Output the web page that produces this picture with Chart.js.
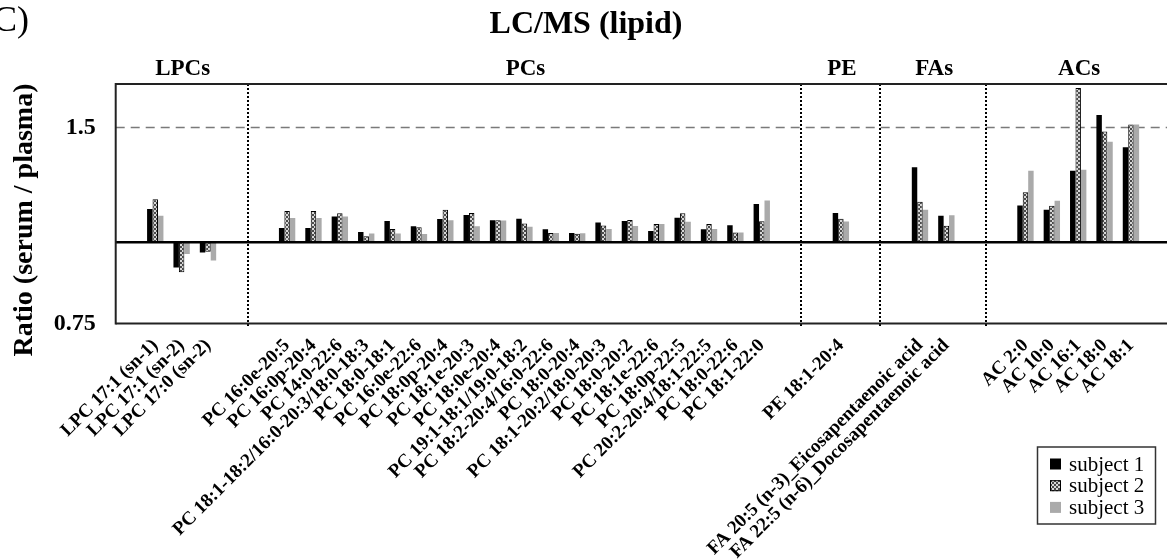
<!DOCTYPE html>
<html><head><meta charset="utf-8">
<script src="https://cdn.jsdelivr.net/npm/chart.js@4/dist/chart.umd.min.js"></script>
<style>html,body{margin:0;padding:0;background:#fff;overflow:hidden}canvas{display:block}</style>
</head><body>
<canvas id="c" width="1172" height="559" style="width:1172px;height:559px"></canvas>
<script>
const categories = ['',
  'LPC 17:1 (sn-1)','LPC 17:1 (sn-2)','LPC 17:0 (sn-2)','','',
  'PC 16:0e-20:5','PC 16:0p-20:4','PC 14:0-22:6','PC 18:1-18:2/16:0-20:3/18:0-18:3','PC 18:0-18:1',
  'PC 16:0e-22:6','PC 18:0p-20:4','PC 18:1e-20:3','PC 18:0e-20:4','PC 19:1-18:1/19:0-18:2',
  'PC 18:2-20:4/16:0-22:6','PC 18:0-20:4','PC 18:1-20:2/18:0-20:3','PC 18:0-20:2','PC 18:1e-22:6',
  'PC 18:0p-22:5','PC 20:2-20:4/18:1-22:5','PC 18:0-22:6','PC 18:1-22:0','','',
  'PE 18:1-20:4','','',
  'FA 20:5 (n-3)_Eicosapentaenoic acid','FA 22:5 (n-6)_Docosapentaenoic acid','','',
  'AC 2:0','AC 10:0','AC 16:1','AC 18:0','AC 18:1',''];
const subject1 = [null, 1.125,0.914,0.964,null,null,
  1.051,1.051,1.095,1.037,1.078,1.058,1.085,1.101,1.081,1.086,1.047,1.033,1.072,1.078,1.040,1.090,1.047,1.062,1.145,null,null,
  1.109,null,null, 1.303,1.098,null,null, 1.139,1.122,1.288,1.568,1.399,null];
const subject2 = [null, 1.164,0.899,0.967,null,null,
  1.117,1.117,1.108,1.021,1.048,1.054,1.122,1.109,1.081,1.068,1.033,1.030,1.061,1.082,1.066,1.108,1.066,1.035,1.077,null,null,
  1.086,null,null, 1.154,1.060,null,null, 1.193,1.138,1.726,1.479,1.516,null];
const subject3 = [null, 1.098,0.959,0.937,null,null,
  1.089,1.089,1.095,1.031,1.031,1.029,1.081,1.058,1.080,1.056,1.033,1.032,1.048,1.059,1.066,1.075,1.048,1.035,1.159,null,null,
  1.076,null,null, 1.122,1.100,null,null, 1.288,1.158,1.292,1.427,1.516,null];
const seriesNames = ['subject 1','subject 2','subject 3'];
const groups = [
  {name:'LPCs', from:0, to:5},
  {name:'PCs', from:5, to:26},
  {name:'PE', from:26, to:29},
  {name:'FAs', from:29, to:33},
  {name:'ACs', from:33, to:40}
];
const yTicks = [0.75, 1.5];
const yMin = 0.75, yMax = 1.75;
const baseValue = 1.0, refValue = 1.5;
const titleText = 'LC/MS (lipid)';
const panelText = '(C)';
const yTitle = 'Ratio (serum / plasma)';

const canvas = document.getElementById('c');
const ctx0 = canvas.getContext('2d');
function makePattern(){
  const p = document.createElement('canvas'); p.width = 4; p.height = 4;
  const g = p.getContext('2d');
  g.fillStyle = '#4a4a4a'; g.fillRect(0,0,4,4);
  g.fillStyle = '#d8d8d8'; g.fillRect(0,0,2,2); g.fillRect(2,2,2,2);
  return ctx0.createPattern(p, 'repeat');
}
const pattern = makePattern();
const fills = ['#000000', pattern, '#aaaaaa'];
const SERIF = 'Liberation Serif, Times New Roman, serif';
const toBars = arr => arr.map(v => v == null ? null : [baseValue, v]);

function line(ctx, x1, y1, x2, y2){ ctx.beginPath(); ctx.moveTo(x1,y1); ctx.lineTo(x2,y2); ctx.stroke(); }

const deco = {
  id: 'deco',
  beforeDatasetsDraw(chart){
    const {ctx, chartArea:a, scales:{x, y}} = chart;
    ctx.save();
    const yr = y.getPixelForValue(refValue);
    ctx.strokeStyle = '#7a7a7a'; ctx.lineWidth = 1.6; ctx.setLineDash([9,6]);
    line(ctx, a.left, yr, a.right, yr);
    const half = (x.getPixelForValue(1) - x.getPixelForValue(0)) / 2;
    ctx.strokeStyle = '#000'; ctx.lineWidth = 2; ctx.setLineDash([2,2]);
    groups.slice(1).forEach(g => {
      const px = Math.round(x.getPixelForValue(g.from) - half);
      line(ctx, px, a.top, px, a.bottom + 3);
    });
    ctx.restore();
  },
  afterDatasetsDraw(chart){
    const {ctx, chartArea:a, scales:{x, y}} = chart;
    ctx.save();
    const yb = y.getPixelForValue(baseValue);
    ctx.strokeStyle = '#000'; ctx.lineWidth = 2.5;
    line(ctx, a.left, yb, a.right, yb);
    ctx.strokeStyle = '#222'; ctx.lineWidth = 2;
    line(ctx, a.left, a.top, a.right, a.top);
    line(ctx, a.left, a.bottom, a.right, a.bottom);
    line(ctx, a.left, a.top - 1, a.left, a.bottom + 1);
    // title
    ctx.fillStyle = '#000';
    ctx.textAlign = 'center'; ctx.textBaseline = 'alphabetic';
    ctx.font = 'bold 32px ' + SERIF;
    ctx.fillText(titleText, 586, 33);
    // panel label
    ctx.textAlign = 'right';
    ctx.font = '36px ' + SERIF;
    ctx.fillText(panelText, 29, 31);
    // group labels
    const half = (x.getPixelForValue(1) - x.getPixelForValue(0)) / 2;
    ctx.textAlign = 'center';
    ctx.font = 'bold 23px ' + SERIF;
    groups.forEach(g => {
      const l = x.getPixelForValue(g.from) - half;
      const r = x.getPixelForValue(g.to - 1) + half;
      ctx.fillText(g.name, (l + r) / 2 + 1, 75);
    });
    // y title
    ctx.save();
    ctx.translate(25, 220); ctx.rotate(-Math.PI/2);
    ctx.textAlign = 'center'; ctx.textBaseline = 'middle';
    ctx.font = 'bold 28px ' + SERIF;
    ctx.fillText(yTitle, 0, 0);
    ctx.restore();
    // legend
    const lx = 1037.5, ly = 447, lw = 118, lh = 77;
    ctx.strokeStyle = '#333'; ctx.lineWidth = 1.5;
    ctx.strokeRect(lx, ly, lw, lh);
    ctx.font = '21px ' + SERIF; ctx.textAlign = 'left'; ctx.textBaseline = 'middle';
    seriesNames.forEach((n, i) => {
      const cy = 464 + i * 21.7;
      ctx.fillStyle = fills[i];
      ctx.fillRect(1050, cy - 5.5, 11, 11);
      if (i === 1) { ctx.strokeStyle = '#000'; ctx.lineWidth = 1; ctx.strokeRect(1050.5, cy - 5, 10, 10); }
      ctx.fillStyle = '#000';
      ctx.fillText(n, 1069, cy + 1);
    });
    ctx.restore();
  }
};

new Chart(canvas, {
  type: 'bar',
  data: {
    labels: categories,
    datasets: [
      {label: seriesNames[0], data: toBars(subject1), backgroundColor: fills[0], borderWidth: 0},
      {label: seriesNames[1], data: toBars(subject2), backgroundColor: fills[1], borderColor: '#000', borderWidth: 1, borderSkipped: false},
      {label: seriesNames[2], data: toBars(subject3), backgroundColor: fills[2], borderWidth: 0}
    ]
  },
  options: {
    responsive: false, animation: false, devicePixelRatio: 1,
    layout: {padding: {top: 84, right: 1.5, left: 0, bottom: 0}},
    plugins: {legend: {display: false}, tooltip: {enabled: false}, title: {display: false}},
    datasets: {bar: {categoryPercentage: 0.62, barPercentage: 1.0, grouped: true}},
    scales: {
      x: {
        type: 'category', offset: true,
        grid: {display: false, drawTicks: false}, border: {display: false},
        ticks: {autoSkip: false, minRotation: 45, maxRotation: 45, padding: 11, color: '#000',
          font: {family: SERIF, weight: 'bold', size: 19}},
        afterFit: s => { s.height = 235.5; s.paddingLeft = 0; s.paddingRight = 0; }
      },
      y: {
        type: 'logarithmic', min: yMin, max: yMax,
        grid: {display: false, drawTicks: false}, border: {display: false},
        afterBuildTicks: s => { s.ticks = yTicks.map(v => ({value: v})); },
        ticks: {padding: 20, color: '#000', font: {family: SERIF, weight: 'bold', size: 24},
          callback: v => String(v)},
        afterFit: s => { s.width = 115.7; s.paddingTop = 0; s.paddingBottom = 0; }
      }
    }
  },
  plugins: [deco]
});
</script>
</body></html>
